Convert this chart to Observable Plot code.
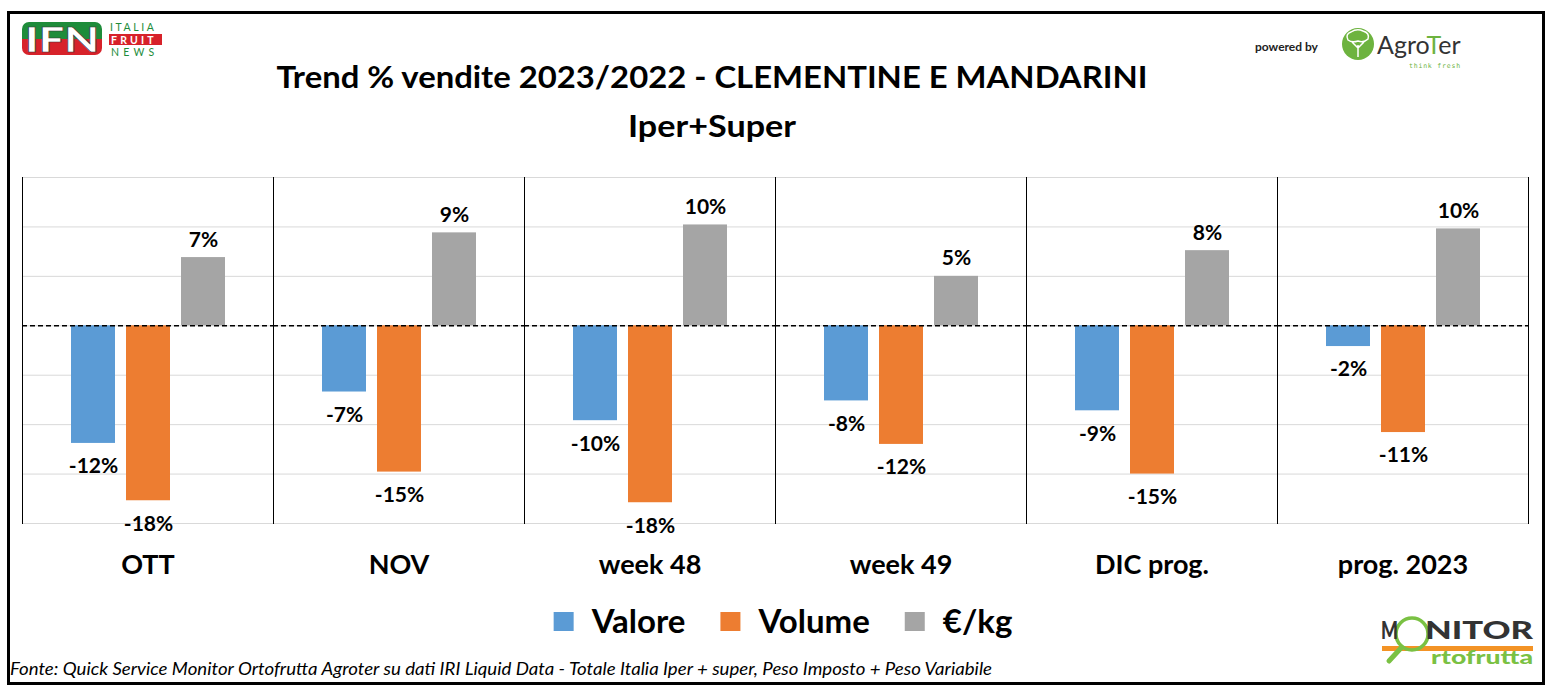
<!DOCTYPE html>
<html>
<head>
<meta charset="utf-8">
<script src="https://cdn.jsdelivr.net/npm/d3@7"></script>
<script src="https://cdn.jsdelivr.net/npm/@observablehq/plot@0.6"></script>
<style>
  html, body { margin: 0; padding: 0; background: #fff; }
  #page { position: relative; width: 1551px; height: 698px; overflow: hidden; font-family: Lato, "Open Sans", sans-serif; }
  #border { position: absolute; left: 7px; top: 11px; width: 1532px; height: 668px; border: 3px solid #000; pointer-events: none; }
</style>
</head>
<body>
<div id="page"></div>
<script>
// ---------- data ----------
const periods = ["OTT", "NOV", "week 48", "week 49", "DIC prog.", "prog. 2023"];
const series = ["Valore", "Volume", "€/kg"];
const valore = [-11.9, -6.7, -9.6, -7.6, -8.6, -2.1];
const volume = [-17.7, -14.8, -17.9, -12.0, -15.0, -10.8];
const prezzo = [6.9, 9.4, 10.2, 5.0, 7.6, 9.8];
const colors = ["#5B9BD5", "#ED7D31", "#A5A5A5"];
const yTicks = [-20, -15, -10, -5, 0, 5, 10, 15];
const title = "Trend % vendite 2023/2022 - CLEMENTINE E MANDARINI";
const subtitle = "Iper+Super";
const source = "Fonte: Quick Service Monitor Ortofrutta Agroter su dati IRI Liquid Data - Totale Italia Iper + super, Peso Imposto + Peso Variabile";

const seriesValues = [valore, volume, prezzo];
const data = periods.flatMap((p, i) => series.map((s, j) => ({period: p, series: s, value: seriesValues[j][i]})));
const fmt = v => `${Math.round(v)}%`;

const page = d3.select("#page");

// ---------- header (logos + title) ----------
const header = page.append("svg").attr("width", 1551).attr("height", 160).style("display", "block");
// IFN logo
const defs = header.append("defs");
defs.append("clipPath").attr("id", "ifnclip").append("rect").attr("x", 22).attr("y", 22).attr("width", 80).attr("height", 33).attr("rx", 7);
const ifn = header.append("g").attr("clip-path", "url(#ifnclip)");
ifn.append("rect").attr("x", 22).attr("y", 22).attr("width", 80).attr("height", 17).attr("fill", "#1E8C3A");
ifn.append("rect").attr("x", 22).attr("y", 39).attr("width", 80).attr("height", 16).attr("fill", "#D7222A");
header.append("rect").attr("x", 109).attr("y", 34).attr("width", 53).attr("height", 11).attr("fill", "#D7222A");
const ifnText = header.append("text").attr("font-family", "Lato");
ifnText.append("tspan").attr("x", 62).attr("y", 52).attr("text-anchor", "middle").attr("font-weight", 900).attr("font-size", 34)
  .attr("fill", "#fff").attr("stroke", "#333").attr("stroke-width", 0.6).attr("textLength", 74).attr("lengthAdjust", "spacingAndGlyphs").text("IFN");
ifnText.append("tspan").attr("x", 110).attr("y", 31).attr("font-size", 10.5).attr("letter-spacing", 2.6).attr("fill", "#1E8C3A").text("ITALIA");
ifnText.append("tspan").attr("x", 111).attr("y", 43.5).attr("font-weight", 700).attr("font-size", 10.5).attr("letter-spacing", 3.2).attr("fill", "#fff").text("FRUIT");
ifnText.append("tspan").attr("x", 111).attr("y", 56).attr("font-size", 10.5).attr("letter-spacing", 4.2).attr("fill", "#1E8C3A").text("NEWS");
// AgroTer logo
header.append("text").attr("x", 1255).attr("y", 51).attr("font-family", "Lato").attr("font-weight", 700).attr("font-size", 12).attr("fill", "#222").text("powered by");
header.append("circle").attr("cx", 1358).attr("cy", 44).attr("r", 16).attr("fill", "#6DB33F");
header.append("path").attr("d", "M1358 57 L1358 45 M1358 48 L1352 42 M1358 48 L1364 42 M1348 40 Q1345 34 1351 32 Q1357 28 1363 31 Q1370 33 1368 39 Q1364 43 1358 41 Q1352 43 1348 40 Z")
  .attr("fill", "none").attr("stroke", "#fff").attr("stroke-width", 1.5);
const agro = header.append("text").attr("font-family", "Lato").attr("fill", "#333").attr("font-size", 25);
agro.append("tspan").attr("x", 1377).attr("y", 54).text("Agro");
agro.append("tspan").attr("fill", "#6DB33F").text("T");
agro.append("tspan").text("er");
header.append("text").attr("x", 1409).attr("y", 68).attr("font-family", "DejaVu Sans Mono").attr("font-size", 6.5)
  .attr("letter-spacing", 0.8).attr("fill", "#6DB33F").text("think fresh");
// Title
header.append("text").attr("x", 712).attr("y", 88).attr("text-anchor", "middle")
  .attr("font-family", "Lato").attr("font-weight", 700).attr("font-size", 31).attr("fill", "#000")
  .attr("textLength", 871).attr("lengthAdjust", "spacingAndGlyphs").text(title);
header.append("text").attr("x", 712).attr("y", 137).attr("text-anchor", "middle")
  .attr("font-family", "Lato").attr("font-weight", 700).attr("font-size", 31).attr("fill", "#000")
  .attr("textLength", 168).attr("lengthAdjust", "spacingAndGlyphs").text(subtitle);

// ---------- chart ----------
const chart = Plot.plot({
  width: 1551,
  height: 430,
  marginTop: 17,
  marginBottom: 67,
  marginLeft: 21,
  marginRight: 22,
  style: {fontFamily: "Lato, sans-serif", background: "transparent", color: "#000"},
  fx: {domain: periods, padding: 0, label: null},
  x: {domain: series, paddingInner: 0.207, paddingOuter: 0.865, axis: null},
  y: {domain: [-20, 15], axis: null},
  color: {domain: series, range: colors},
  marks: [
    Plot.gridY(yTicks, {stroke: "#D9D9D9", strokeOpacity: 1, strokeWidth: 1}),
    Plot.frame({anchor: "left", stroke: "#000", strokeWidth: 1}),
    Plot.frame({anchor: "right", stroke: "#000", strokeWidth: 1}),
    Plot.barY(data, {fx: "period", x: "series", y: "value", fill: "series"}),
    Plot.ruleY([0], {stroke: "#000", strokeWidth: 1.6, strokeDasharray: "5,3"}),
    Plot.text(data.filter(d => d.value >= 0), {fx: "period", x: "series", y: "value", text: d => fmt(d.value),
      lineAnchor: "bottom", dy: -11, fontSize: 21, fontWeight: "bold", fill: "#000"}),
    Plot.text(data.filter(d => d.value < 0), {fx: "period", x: "series", y: "value", text: d => fmt(d.value),
      lineAnchor: "top", dy: 15, fontSize: 21, fontWeight: "bold", fill: "#000"}),
    Plot.axisFx({anchor: "bottom", tickSize: 0, tickPadding: 31, fontSize: 27, fontWeight: "bold", label: null, fill: "#000"})
  ]
});
d3.select(chart).style("display", "block");
page.node().appendChild(chart);

// ---------- legend + footer ----------
const foot = page.append("svg").attr("width", 1551).attr("height", 108).style("display", "block");
const leg = foot.append("g");
let cx = 0;
series.forEach((s, i) => {
  const g = leg.append("g");
  g.append("rect").attr("x", cx).attr("y", 22).attr("width", 20).attr("height", 19).attr("fill", colors[i]);
  const t = g.append("text").attr("x", cx + 38).attr("y", 43).attr("font-family", "Lato").attr("font-weight", 700)
    .attr("font-size", 33).attr("fill", "#000").text(s);
  const w = t.node().getComputedTextLength();
  cx += 38 + w + 35;
});
const legW = cx - 35;
leg.attr("transform", `translate(${783 - legW / 2},0)`);
foot.append("text").attr("x", 10).attr("y", 85).attr("font-family", "Lato").attr("font-style", "italic")
  .attr("font-size", 16.5).attr("fill", "#000").attr("textLength", 982).attr("lengthAdjust", "spacingAndGlyphs").text(source);
// Monitor Ortofrutta logo
foot.append("rect").attr("x", 1382).attr("y", 56).attr("width", 151).attr("height", 5).attr("fill", "#F39325");
foot.append("line").attr("x1", 1401).attr("y1", 58).attr("x2", 1389).attr("y2", 71).attr("stroke", "#7AC143").attr("stroke-width", 5).attr("stroke-linecap", "round");
foot.append("circle").attr("cx", 1412).attr("cy", 44).attr("r", 16).attr("fill", "none").attr("stroke", "#7AC143").attr("stroke-width", 3.5);
const mon = foot.append("text").attr("font-family", "Lato").attr("font-weight", 900).attr("font-size", 24).attr("fill", "#333");
mon.append("tspan").attr("x", 1381).attr("y", 49).attr("textLength", 17).attr("lengthAdjust", "spacingAndGlyphs").text("M");
mon.append("tspan").attr("x", 1425).attr("y", 49).attr("textLength", 108).attr("lengthAdjust", "spacingAndGlyphs").text("NITOR");
foot.append("text").attr("x", 1431).attr("y", 74).attr("font-family", "Lato").attr("font-weight", 900).attr("font-size", 18.5)
  .attr("fill", "#7AC143").attr("textLength", 102).attr("lengthAdjust", "spacingAndGlyphs").text("rtofrutta");

// ---------- outer border ----------
page.append("div").attr("id", "border");
</script>
</body>
</html>
